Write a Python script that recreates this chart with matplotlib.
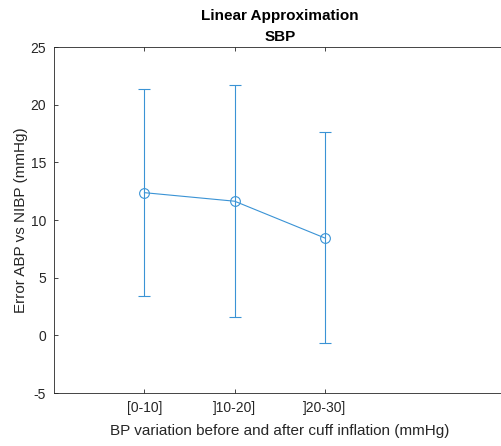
import numpy as np
import matplotlib
matplotlib.use('Agg')
import matplotlib.pyplot as plt

plt.rcParams['font.family'] = ['Liberation Sans', 'DejaVu Sans']
plt.rcParams['axes.unicode_minus'] = False

# Data
categories = ['[0-10]', ']10-20]', ']20-30]']
mean_error = [12.37, 11.63, 8.44]
err_low = [9.0, 10.03, 9.13]
err_high = [9.0, 10.05, 9.16]

x = np.arange(1, len(categories) + 1)
color = '#3A93D5'
dark = '#262626'

fig = plt.figure(figsize=(5.01, 4.46), dpi=100)
ax = fig.add_axes([0.1084, 0.1188, 0.9, 0.7758])

ax.errorbar(x, mean_error, yerr=[err_low, err_high], color=color, ecolor=color,
            lw=0.8, marker='o', markersize=7, markerfacecolor='none',
            markeredgecolor=color, markeredgewidth=0.8,
            capsize=4, capthick=0.8, elinewidth=0.8)

ax.set_xlim(0, 5)
ax.set_ylim(-5, 25)
ax.set_xticks(x)
ax.set_xticklabels(categories)
ax.set_yticks(np.arange(-5, 26, 5))

ax.tick_params(direction='in', top=True, right=True, length=3, width=0.6,
               colors=dark, labelsize=10, pad=6)
for s in ax.spines.values():
    s.set_color(dark)
    s.set_linewidth(0.6)

ax.set_xlabel('BP variation before and after cuff inflation (mmHg)', fontsize=11, color=dark, labelpad=6)
ax.set_ylabel('Error ABP vs NIBP (mmHg)', fontsize=11, color=dark, labelpad=2)
ax.set_title('Linear Approximation\nSBP', fontsize=11, fontweight='bold', color='black',
             linespacing=1.7, pad=4)

fig.savefig('out.png', dpi=100)
